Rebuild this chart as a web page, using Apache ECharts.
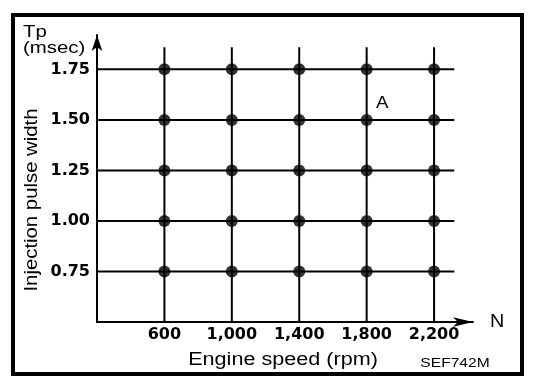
<!DOCTYPE html>
<html>
<head>
<meta charset="utf-8">
<script src="https://cdn.jsdelivr.net/npm/echarts@6/dist/echarts.min.js"></script>
<style>html,body{margin:0;padding:0;background:#fff}#c{width:560px;height:392px}</style>
</head>
<body>
<div id="c"></div>
<script>
// Data
const engineSpeeds = [600, 1000, 1400, 1800, 2200];        // rpm (x ticks)
const pulseWidths = [0.75, 1.00, 1.25, 1.50, 1.75];         // Tp msec (y ticks)
const xTickLabels = ['600', '1,000', '1,400', '1,800', '2,200'];
const yTickLabels = ['0.75', '1.00', '1.25', '1.50', '1.75'];
const xMin = 200, xMax = 2431;
const yMin = 0.5, yMax = 1.92;
const hLineEnd = 2320;   // horizontal grid lines extend to this rpm
const vLineTop = 1.86;   // vertical grid lines extend to this Tp

const chart = echarts.init(document.getElementById('c'), null, {renderer: 'canvas'});

const series = [];
pulseWidths.forEach(function (p) {
  series.push({type: 'line', data: [[xMin, p], [hLineEnd, p]], symbol: 'none',
    lineStyle: {color: '#000', width: 2}, silent: true, z: 2});
});
engineSpeeds.forEach(function (s) {
  series.push({type: 'line', data: [[s, yMin], [s, vLineTop]], symbol: 'none',
    lineStyle: {color: '#000', width: 2}, silent: true, z: 2});
});
const pts = [];
engineSpeeds.forEach(function (s) { pulseWidths.forEach(function (p) { pts.push([s, p]); }); });
series.push({type: 'scatter', data: pts, symbol: 'circle', symbolSize: 12,
  itemStyle: {color: '#000'}, z: 3});

const txt = function (text, x, y, size, opts) {
  return Object.assign({
    type: 'text', x: x, y: y, scaleX: opts && opts.sx || 1.2,
    rotation: opts && opts.rot || 0,
    style: {text: text, fill: '#000', font: (opts && opts.weight || 'normal') + ' ' + size + 'px "Liberation Sans", Arial, sans-serif',
      textAlign: opts && opts.align || 'left', textVerticalAlign: 'middle'}
  }, {});
};

chart.setOption({
  animation: false,
  backgroundColor: '#fff',
  grid: {left: 97, right: 87, top: 35, bottom: 70},
  xAxis: {
    type: 'value', min: xMin, max: xMax,
    axisLine: {onZero: false, symbol: ['none', 'arrow'], symbolSize: [7, 20],
      lineStyle: {color: '#000', width: 2}},
    axisTick: {show: false},
    splitLine: {show: false},
    axisLabel: {
      customValues: engineSpeeds,
      formatter: function (v) { const i = engineSpeeds.indexOf(v); return i >= 0 ? xTickLabels[i] : ''; },
      color: '#000', fontFamily: 'DejaVu Sans', fontWeight: 'bold', fontSize: 16, margin: 5
    }
  },
  yAxis: {
    type: 'value', min: yMin, max: yMax,
    axisLine: {onZero: false, symbol: ['none', 'arrow'], symbolSize: [8, 16],
      lineStyle: {color: '#000', width: 2}},
    axisTick: {show: false},
    splitLine: {show: false},
    axisLabel: {
      customValues: pulseWidths,
      formatter: function (v) { const i = pulseWidths.indexOf(v); return i >= 0 ? yTickLabels[i] : ''; },
      color: '#000', fontFamily: 'DejaVu Sans', fontWeight: 'bold', fontSize: 16, margin: 7
    }
  },
  series: series,
  graphic: [
    {type: 'rect', shape: {x: 13, y: 15, width: 509, height: 359},
      style: {fill: 'none', stroke: '#000', lineWidth: 4}, silent: true},
    txt('Tp', 23, 32, 17),
    txt('(msec)', 23, 48, 17),
    txt('Injection pulse width', 32, 200, 18, {rot: Math.PI / 2, align: 'center', sx: 1.13}),
    txt('Engine speed (rpm)', 283, 360, 18, {align: 'center', sx: 1.2}),
    txt('SEF742M', 455, 364, 12, {align: 'center', sx: 1.3}),
    txt('N', 490, 322, 18, {sx: 1.1}),
    txt('A', 376, 103, 17, {sx: 1.1})
  ]
});
</script>
</body>
</html>
